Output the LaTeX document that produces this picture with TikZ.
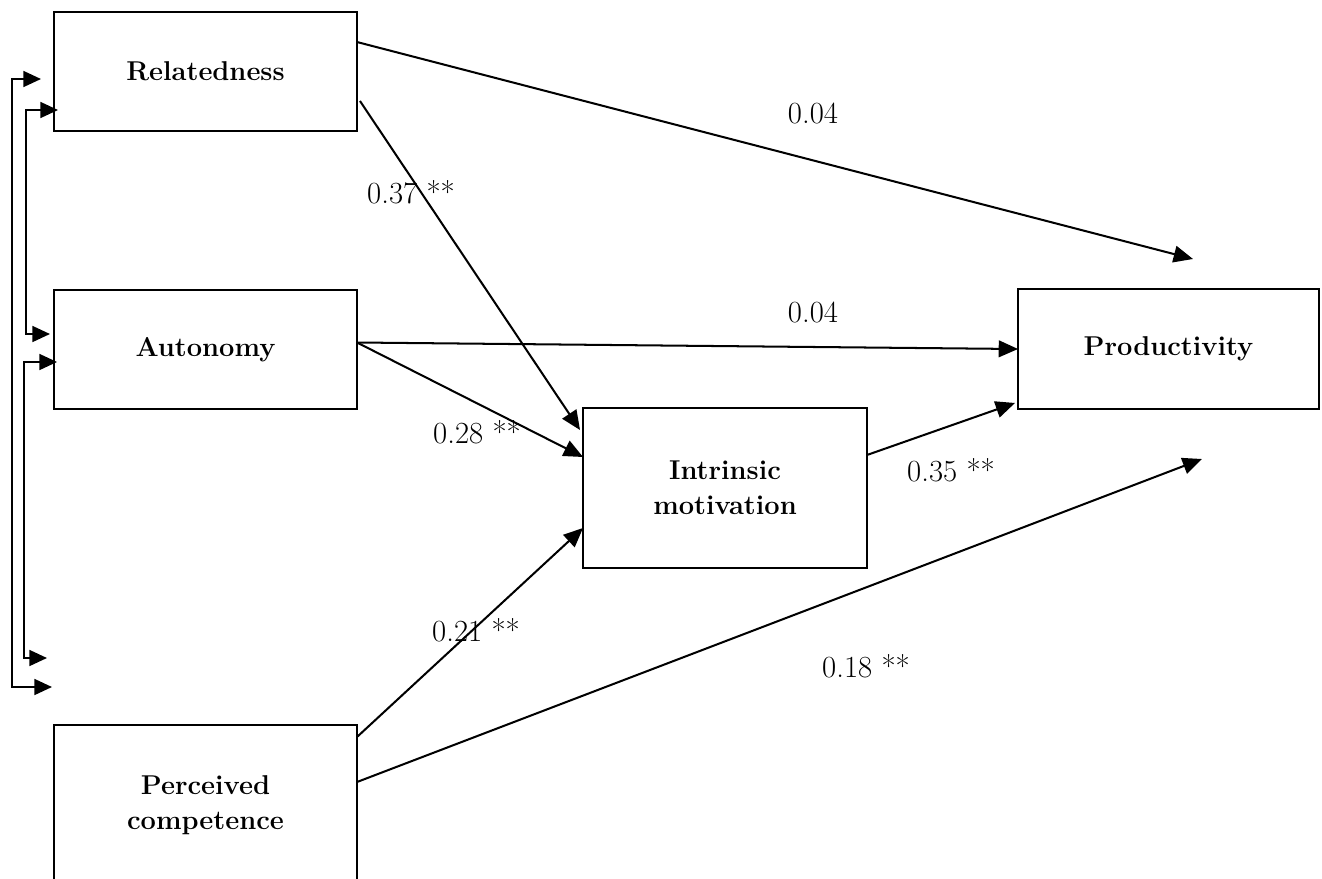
\documentclass[tikz,border=0pt]{standalone}
\usepackage{tikz}
\usetikzlibrary{arrows.meta,calc}
\tikzstyle{Box}=[draw, line width=1.2pt, inner sep=0pt, outer sep=0pt, minimum width=6.06cm, minimum height=2.38cm, align=center, font=\fontsize{15.5}{20}\selectfont\bfseries]
\tikzstyle{Tall}=[minimum height=3.2cm]
\tikzstyle{Line}=[-{Triangle[length=11pt, width=9.5pt]}, line width=1.15pt]
\tikzstyle{Pair}=[{Triangle[length=10pt, width=9pt]}-{Triangle[length=10pt, width=9pt]}, line width=1.15pt]
\tikzstyle{Weight}=[font=\fontsize{17.5}{20}\selectfont]

\begin{document}
\begin{tikzpicture}[x=0.02cm, y=-0.02cm]

    \clip (0, 0) rectangle (1322, 879);

    \node[Box] (rel) at (205.5, 71.5) {Relatedness};
    \node[Box] (aut) at (205.5, 349.5) {Autonomy};
    \node[Box, Tall] (com) at (205.5, 805) {Perceived\\competence};
    \node[Box, Tall, minimum width=5.68cm] (int) at (725, 488) {Intrinsic\\motivation};
    \node[Box, minimum width=6.02cm, minimum height=2.4cm] (pro) at (1168.5, 349) {Productivity};

    % open ends of the two long paths
    \coordinate (hi) at (1193, 259);
    \coordinate (lo) at (1202, 459);

    \draw[Line] ($(rel.north east)+(0, 30)$) to (hi);
    \draw[Line] ($(rel.south east)+(3, -30)$) to ($(int.north west)+(-3, 22)$);

    \draw[Line] ($(aut.east)+(0, -7)$) to (pro.west);
    \draw[Line] ($(aut.east)+(0, -7)$) to ($(int.west)+(0, -31)$);

    \draw[Line] ($(int.east)+(0, -33)$) to ($(pro.south west)+(-3, -6)$);

    \draw[Line] ($(com.north east)+(0, 12)$) to ($(int.west)+(0, 40)$);
    \draw[Line] ($(com.north east)+(0, 57)$) to (lo);

    \node[Weight] (w1) at (813, 113) {0.04};
    \node[Weight] (w2) at (411, 192) {0.37 **};
    \node[Weight] (w3) at (813, 312) {0.04};
    \node[Weight] (w4) at (477, 432) {0.28 **};
    \node[Weight] (w5) at (951, 470) {0.35 **};
    \node[Weight] (w6) at (476, 630) {0.21 **};
    \node[Weight] (w7) at (866, 666) {0.18 **};

    % correlations on the left
    \coordinate (a1) at (41, 79);
    \coordinate (a2) at (52, 687);
    \coordinate (b1) at (58, 110);
    \coordinate (b2) at (50, 334);
    \coordinate (c1) at (57, 362);
    \coordinate (c2) at (47, 658);

    \draw[Pair] (a1) -- ++(-29, 0) |- (a2);
    \draw[Pair] (b1) -- ++(-32, 0) |- (b2);
    \draw[Pair] (c1) -- ++(-33, 0) |- (c2);

\end{tikzpicture}
\end{document}
